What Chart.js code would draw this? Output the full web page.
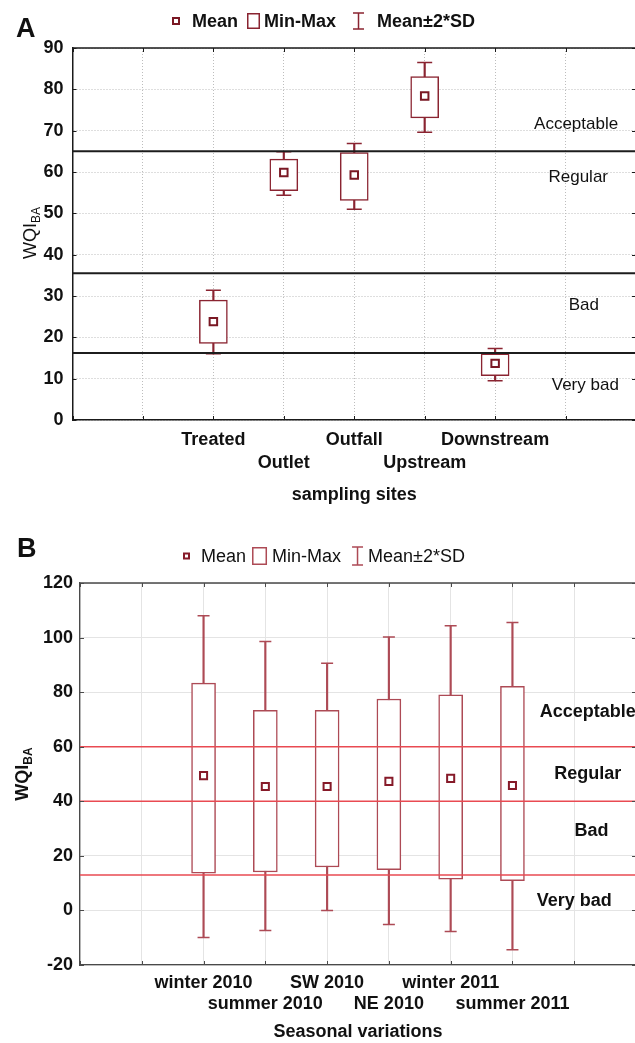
<!DOCTYPE html>
<html>
<head>
<meta charset="utf-8">
<script src="https://cdn.jsdelivr.net/npm/chart.js@4.4.1/dist/chart.umd.min.js"></script>
<style>
  html, body { margin: 0; padding: 0; background: #fff; overflow: hidden; }
  #wrap { position: relative; width: 635px; height: 1043px; overflow: hidden; }
  .panel { position: absolute; left: 0; }
  #pa { top: 0; }
  #pb { top: 520px; }
  canvas { display: block; }
</style>
</head>
<body>
<div id="wrap">
  <div class="panel" id="pa"><canvas id="chartA" width="645" height="520"></canvas></div>
  <div class="panel" id="pb"><canvas id="chartB" width="645" height="523"></canvas></div>
</div>
<script>
// ---- Panel A: WQI_BA by sampling site ----
const sites      = ['Treated', 'Outlet', 'Outfall', 'Upstream', 'Downstream'];
const siteMean   = [23.8, 59.9, 59.3, 78.4, 13.7];
const siteMin    = [18.5, 55.5, 53.1, 73.1, 10.7];
const siteMax    = [29.0, 63.1, 64.7, 83.1, 16.0];
const siteSdLow  = [16.0, 54.4, 51.0, 69.6, 9.5];
const siteSdHigh = [31.4, 64.9, 66.9, 86.5, 17.3];
const siteBands  = [65, 35.5, 16.2];
const siteYTicks = [0, 10, 20, 30, 40, 50, 60, 70, 80, 90];
const siteZones  = ['Acceptable', 'Regular', 'Bad', 'Very bad'];

// ---- Panel B: WQI_BA by season ----
const seasons      = ['winter 2010', 'summer 2010', 'SW 2010', 'NE 2010', 'winter 2011', 'summer 2011'];
const seasonMean   = [49.4, 45.4, 45.4, 47.3, 48.4, 45.8];
const seasonMin    = [13.7, 14.1, 15.9, 14.9, 11.5, 10.9];
const seasonMax    = [83.3, 73.3, 73.3, 77.5, 79.0, 82.1];
const seasonSdLow  = [-9.9, -7.4, 0.0, -5.2, -7.7, -14.4];
const seasonSdHigh = [108.0, 98.6, 90.6, 100.2, 104.3, 105.5];
const seasonBands  = [60, 40, 13];
const seasonYTicks = [-20, 0, 20, 40, 60, 80, 100, 120];
const seasonZones  = ['Acceptable', 'Regular', 'Bad', 'Very bad'];

const legendLabels = ['Mean', 'Min-Max', 'Mean\u00b12*SD'];

const FONT = '"Liberation Sans", Arial, Helvetica, sans-serif';

// place values into a row of category slots (empty slots left blank)
function slot(values, first, count, empty = null) {
  const out = new Array(count).fill(empty);
  values.forEach((v, i) => { out[first + i] = v; });
  return out;
}

function boxDatasets(means, mins, maxs, lows, highs, first, count, st) {
  return [
    { type: 'bar', label: 'whisker', data: slot(lows.map((v, i) => [v, highs[i]]), first, count),
      backgroundColor: st.whisker, borderWidth: 0, barThickness: st.whiskerWidth, grouped: false, order: 6 },
    { type: 'bar', label: 'Min-Max', data: slot(mins.map((v, i) => [v, maxs[i]]), first, count),
      backgroundColor: '#ffffff', borderColor: st.box, borderWidth: st.boxLine, borderSkipped: false,
      barThickness: st.boxWidth, grouped: false, order: 5 },
    { type: 'line', label: 'cap-high', data: slot(highs, first, count), showLine: false,
      pointStyle: 'line', pointRadius: st.capHalf, pointBorderWidth: st.capLine, pointBorderColor: st.whisker, order: 3 },
    { type: 'line', label: 'cap-low', data: slot(lows, first, count), showLine: false,
      pointStyle: 'line', pointRadius: st.capHalf, pointBorderWidth: st.capLine, pointBorderColor: st.whisker, order: 3 },
    { type: 'line', label: 'Mean', data: slot(means, first, count), showLine: false,
      pointStyle: 'rect', pointRadius: st.meanR, pointBorderWidth: 2, pointBorderColor: st.mean,
      pointBackgroundColor: '#ffffff', order: 0 }
  ];
}

function bandDatasets(bands, count, color, width) {
  return bands.map(v => ({
    type: 'line', label: 'band', data: new Array(count).fill(v), borderColor: color,
    borderWidth: width, pointRadius: 0, fill: false, order: 1
  }));
}

function drawIcon(ctx, kind, x, cy, ic, colors) {
  ctx.save();
  if (kind === 'mean') {
    ctx.strokeStyle = colors.mean; ctx.lineWidth = 2;
    ctx.strokeRect(x + 1, cy - ic.h / 2 + 1, ic.w - 2, ic.h - 2);
  } else if (kind === 'box') {
    ctx.strokeStyle = colors.box; ctx.lineWidth = 1.5;
    ctx.strokeRect(x + 0.75, cy - ic.h / 2 + 0.75, ic.w - 1.5, ic.h - 1.5);
  } else {
    ctx.strokeStyle = colors.whisker; ctx.lineWidth = 1.5;
    const mx = x + ic.w / 2;
    ctx.beginPath();
    ctx.moveTo(mx, cy - ic.h / 2); ctx.lineTo(mx, cy + ic.h / 2);
    ctx.moveTo(x, cy - ic.h / 2); ctx.lineTo(x + ic.w, cy - ic.h / 2);
    ctx.moveTo(x, cy + ic.h / 2); ctx.lineTo(x + ic.w, cy + ic.h / 2);
    ctx.stroke();
  }
  ctx.restore();
}

// frame, inward tick marks, legend, panel letter, y title with subscript, zone labels
const panelDecor = {
  id: 'panelDecor',
  afterDraw(chart, _args, o) {
    const { ctx, chartArea: a } = chart;
    const xs = chart.scales.x, ys = chart.scales.y;
    ctx.save();
    ctx.strokeStyle = o.axisColor; ctx.lineWidth = o.axisWidth;
    ctx.beginPath();
    ctx.moveTo(a.left, a.top); ctx.lineTo(a.right, a.top); ctx.lineTo(a.right, a.bottom);
    ctx.stroke();

    ctx.lineWidth = 1;
    ctx.beginPath();
    xs.ticks.forEach((t, i) => {
      const p = Math.round(xs.getPixelForTick(i)) + 0.5;
      ctx.moveTo(p, a.bottom); ctx.lineTo(p, a.bottom - o.tickLen);
      ctx.moveTo(p, a.top); ctx.lineTo(p, a.top + o.tickLen);
    });
    ys.ticks.forEach((t, i) => {
      const p = Math.round(ys.getPixelForTick(i)) + 0.5;
      ctx.moveTo(a.left, p); ctx.lineTo(a.left + o.tickLen, p);
      ctx.moveTo(a.right, p); ctx.lineTo(a.right - o.tickLen, p);
    });
    ctx.stroke();

    // panel letter
    ctx.fillStyle = '#111';
    ctx.font = o.letterFont;
    ctx.textAlign = 'left'; ctx.textBaseline = 'alphabetic';
    ctx.fillText(o.letter, o.letterX, o.letterY);

    // legend
    const lg = o.legend;
    ctx.font = lg.font; ctx.textBaseline = 'middle';
    let cx = lg.x;
    const kinds = ['mean', 'box', 'ibeam'];
    legendLabels.forEach((label, i) => {
      const ic = lg.icons[i];
      drawIcon(ctx, kinds[i], cx, lg.y, ic, o.colors);
      cx += ic.w + ic.gap;
      ctx.fillStyle = '#111';
      ctx.fillText(label, cx, lg.y + 1);
      cx += ctx.measureText(label).width + ic.after;
    });

    // y-axis title with subscript
    const t = o.yTitle;
    ctx.save();
    ctx.translate(t.x, t.y); ctx.rotate(-Math.PI / 2);
    ctx.font = t.font; const w1 = ctx.measureText(t.main).width;
    ctx.font = t.subFont; const w2 = ctx.measureText(t.sub).width;
    const start = -(w1 + w2) / 2;
    ctx.textBaseline = 'alphabetic'; ctx.textAlign = 'left';
    ctx.font = t.font; ctx.fillText(t.main, start, 6.5);
    ctx.font = t.subFont; ctx.fillText(t.sub, start + w1, 10.5);
    ctx.restore();

    // zone labels
    ctx.font = o.zoneFont; ctx.textAlign = 'center'; ctx.textBaseline = 'middle';
    ctx.fillStyle = '#111';
    o.zoneText.forEach((txt, i) => {
      const z = o.zonePos[i];
      ctx.fillText(txt, xs.getPixelForValue(z[0]), ys.getPixelForValue(z[1]));
    });
    ctx.restore();
  }
};

function staggered(labels) {
  return function (value, index) {
    const s = this.getLabelForValue(value);
    if (!s) return '';
    return labels.indexOf(s) % 2 === 1 ? ['', s] : s;
  };
}

// ---------------- Chart A ----------------
const styleA = { box: '#8a2431', whisker: '#8a2431', mean: '#7a1824',
                 boxWidth: 28, boxLine: 1.5, whiskerWidth: 1.5, capHalf: 7.5, capLine: 1.5, meanR: 5.3 };
const countA = 9;
new Chart(document.getElementById('chartA'), {
  type: 'bar',
  data: {
    labels: slot(sites, 2, countA, ''),
    datasets: [
      ...boxDatasets(siteMean, siteMin, siteMax, siteSdLow, siteSdHigh, 2, countA, styleA),
      ...bandDatasets(siteBands, countA, '#1c1c1c', 2)
    ]
  },
  options: {
    responsive: false, animation: false, events: [],
    layout: { padding: { top: 48, right: 8, bottom: 0, left: 0 } },
    plugins: {
      legend: { display: false }, tooltip: { enabled: false },
      panelDecor: {
        axisColor: '#1a1a1a', axisWidth: 1.5, tickLen: 4,
        letter: 'A', letterFont: 'bold 27px ' + FONT, letterX: 16, letterY: 37,
        colors: styleA,
        legend: { font: 'bold 18px ' + FONT, x: 172, y: 21,
                  icons: [ { w: 8, h: 8, gap: 12, after: 9 },
                           { w: 13, h: 16, gap: 4, after: 17 },
                           { w: 11, h: 16, gap: 13, after: 0 } ] },
        yTitle: { main: 'WQI', sub: 'BA', x: 29, y: 233, font: '18px ' + FONT, subFont: '12px ' + FONT },
        zoneFont: '17px ' + FONT,
        zoneText: siteZones,
        zonePos: [[7.15, 71.6], [7.18, 58.6], [7.26, 27.8], [7.28, 8.5]]
      }
    },
    scales: {
      x: {
        type: 'category', offset: false,
        grid: { color: '#bdbdbd', lineWidth: 1, drawTicks: false, offset: false },
        border: { color: '#1a1a1a', width: 1.5, dash: [1, 2] },
        ticks: { autoSkip: false, maxRotation: 0, minRotation: 0, padding: 8.5, color: '#111',
                 font: { family: FONT, size: 18, weight: 'bold', lineHeight: 1.28 },
                 callback: staggered(sites) },
        title: { display: true, text: 'sampling sites', color: '#111',
                 font: { family: FONT, size: 18, weight: 'bold' }, padding: { top: 0, bottom: 14 } },
        afterFit: s => { s.height = 100; }
      },
      y: {
        min: siteYTicks[0], max: siteYTicks[siteYTicks.length - 1],
        grid: { color: '#bdbdbd', lineWidth: 1, drawTicks: false },
        border: { color: '#1a1a1a', width: 1.5, dash: [1, 2] },
        ticks: { stepSize: siteYTicks[1] - siteYTicks[0], padding: 9, color: '#111',
                 font: { family: FONT, size: 18, weight: 'bold' } },
        afterFit: s => { s.width = 72.5; }
      }
    }
  },
  plugins: [panelDecor]
});

// ---------------- Chart B ----------------
const styleB = { box: '#ad4a55', whisker: '#ad4a55', mean: '#861a29',
                 boxWidth: 24, boxLine: 1.5, whiskerWidth: 1.5, capHalf: 6, capLine: 1.5, meanR: 5 };
const countB = 10;
new Chart(document.getElementById('chartB'), {
  type: 'bar',
  data: {
    labels: slot(seasons, 2, countB, ''),
    datasets: [
      ...boxDatasets(seasonMean, seasonMin, seasonMax, seasonSdLow, seasonSdHigh, 2, countB, styleB),
      ...bandDatasets(seasonBands, countB, '#e94a52', 1.5)
    ]
  },
  options: {
    responsive: false, animation: false, events: [],
    layout: { padding: { top: 63, right: 9, bottom: 0, left: 0 } },
    plugins: {
      legend: { display: false }, tooltip: { enabled: false },
      panelDecor: {
        axisColor: '#4a4a4a', axisWidth: 1.3, tickLen: 4,
        letter: 'B', letterFont: 'bold 27px ' + FONT, letterX: 17, letterY: 37,
        colors: styleB,
        legend: { font: '18px ' + FONT, x: 183, y: 36,
                  icons: [ { w: 7, h: 7, gap: 11, after: 6 },
                           { w: 15, h: 18, gap: 5, after: 11 },
                           { w: 11, h: 18, gap: 5, after: 0 } ] },
        yTitle: { main: 'WQI', sub: 'BA', x: 21, y: 254, font: 'bold 18px ' + FONT, subFont: 'bold 12px ' + FONT },
        zoneFont: 'bold 18px ' + FONT,
        zoneText: seasonZones,
        zonePos: [[8.22, 72.7], [8.22, 50.0], [8.28, 29.1], [8.0, 3.5]]
      }
    },
    scales: {
      x: {
        type: 'category', offset: false,
        grid: { color: '#e4e4e4', lineWidth: 1, drawTicks: false, offset: false },
        border: { color: '#4a4a4a', width: 1.3 },
        ticks: { autoSkip: false, maxRotation: 0, minRotation: 0, padding: 7.5, color: '#111',
                 font: { family: FONT, size: 18, weight: 'bold', lineHeight: 1.167 },
                 callback: staggered(seasons) },
        title: { display: true, text: 'Seasonal variations', color: '#111',
                 font: { family: FONT, size: 18, weight: 'bold' }, padding: { top: 0, bottom: 0 } },
        afterFit: s => { s.height = 78; }
      },
      y: {
        min: seasonYTicks[0], max: seasonYTicks[seasonYTicks.length - 1],
        grid: { color: '#e4e4e4', lineWidth: 1, drawTicks: false },
        border: { color: '#4a4a4a', width: 1.3 },
        ticks: { stepSize: seasonYTicks[1] - seasonYTicks[0], padding: 7, color: '#111',
                 font: { family: FONT, size: 18, weight: 'bold' } },
        afterFit: s => { s.width = 80; }
      }
    }
  },
  plugins: [panelDecor]
});
</script>
</body>
</html>
